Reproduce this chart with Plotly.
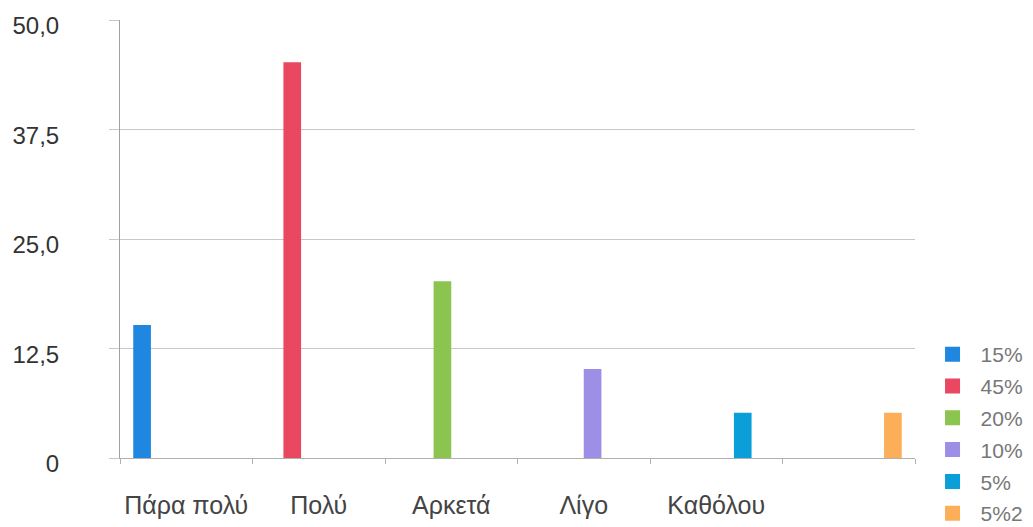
import plotly.graph_objects as go

categories = ["Πάρα πολύ", "Πολύ", "Αρκετά", "Λίγο", "Καθόλου", " "]
series_names = ["15%", "45%", "20%", "10%", "5%", "5%2"]
series_values = [15, 45, 20, 10, 5, 5]
colors = ["#1f87e0", "#ea4760", "#8cc450", "#9d8ee6", "#0a9fd9", "#fcae58"]
y_tickvals = [0, 12.5, 25, 37.5, 50]
y_ticktext = ["0", "12,5", "25,0", "37,5", "50,0"]

fig = go.Figure()
for i, (name, val, col) in enumerate(zip(series_names, series_values, colors)):
    fig.add_trace(go.Bar(
        x=[categories[i]], y=[val], name=name, legendgroup=name,
        offsetgroup=name,
        marker=dict(color=col, line=dict(color=col, width=3)),
        hoverinfo="skip",
    ))

fig.update_layout(
    width=1025, height=519,
    margin=dict(l=112, r=118, t=12, b=69, autoexpand=False),
    paper_bgcolor="white", plot_bgcolor="white",
    barmode="group", bargap=0.2, bargroupgap=0.17,
    font=dict(family="Liberation Sans, DejaVu Sans, sans-serif", color="#444"),
    showlegend=True,
    legend=dict(
        x=1.012, xanchor="left", y=0.283, yanchor="top",
        font=dict(size=21, color="#777"),
        traceorder="grouped", tracegroupgap=1.5,
        itemwidth=46,
        itemclick=False, bgcolor="rgba(0,0,0,0)",
    ),
    xaxis=dict(
        type="category", categoryorder="array", categoryarray=categories,
        showline=True, linecolor="#b0b0b0", linewidth=1,
        ticks="outside", tickson="boundaries", ticklen=5, tickcolor="#b0b0b0",
        tickfont=dict(size=25, color="#444"), ticklabelstandoff=25,
        tickangle=0, ticklabeloverflow="allow",
        showgrid=False, range=[-0.5, 5.5], automargin=False,
    ),
    yaxis=dict(
        range=[0, 50], tickvals=y_tickvals, ticktext=y_ticktext,
        showline=True, linecolor="#a0a0a0", linewidth=1,
        ticks="outside", ticklen=10, tickcolor="#c8c8c8",
        showgrid=True, gridcolor="#c8c8c8", gridwidth=1,
        zeroline=False, automargin=False, ticklabeloverflow="allow",
        tickfont=dict(size=24, color="#333"), ticklabelstandoff=45,
        ticklabelshift=6,
    ),
)

fig.write_html("out.html")
